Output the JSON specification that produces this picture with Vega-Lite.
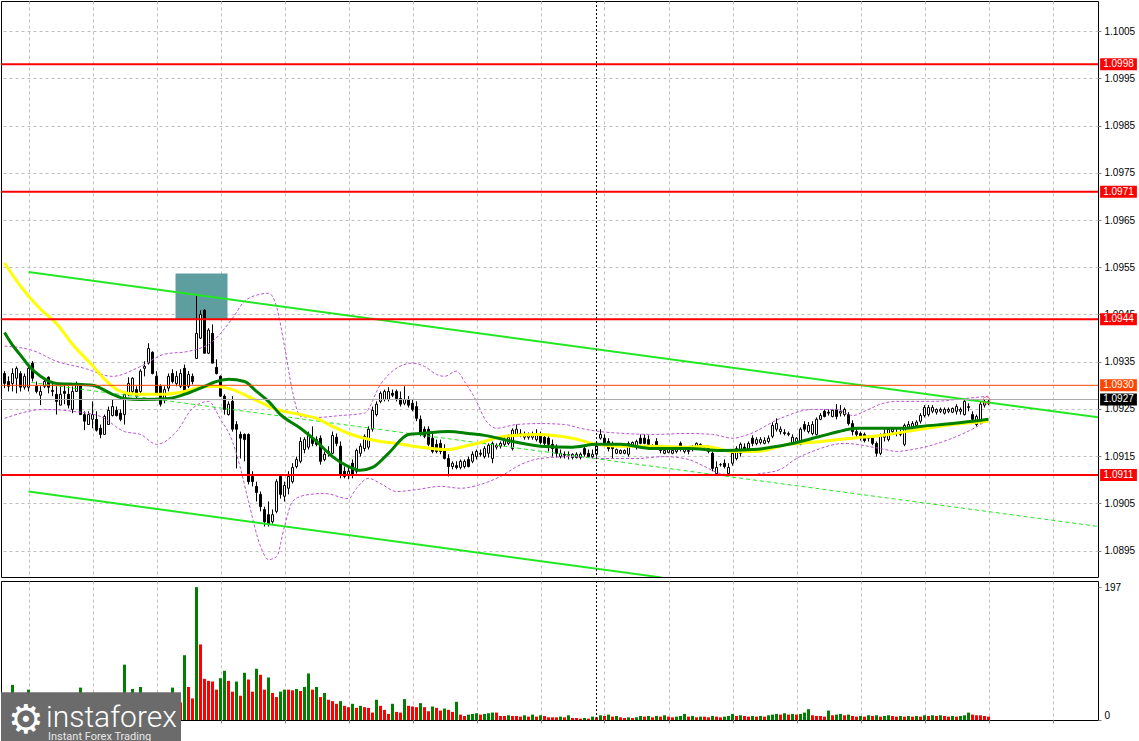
{
"$schema":"https://vega.github.io/schema/vega-lite/v6.json",
"padding":0,
"background":"#ffffff",
"spacing":2,
"config":{"font":"Liberation Sans","scale":{"continuousPadding":0},"view":{"stroke":"#000000","strokeWidth":1},"axis":{"labelFont":"Liberation Sans","labelFontSize":10,"labelColor":"#000000","gridColor":"#c0c0c0","gridDash":[3,3],"gridWidth":1,"tickColor":"#808080","domain":false}},
"datasets":{
"candles":[
{"i":0,"o":1.09325,"h":1.09330,"l":1.09294,"c":1.09304},
{"i":1,"o":1.09308,"h":1.09319,"l":1.09287,"c":1.09298},
{"i":2,"o":1.09304,"h":1.09336,"l":1.09287,"c":1.09325},
{"i":3,"o":1.09315,"h":1.09340,"l":1.09283,"c":1.09336},
{"i":4,"o":1.09325,"h":1.09330,"l":1.09287,"c":1.09296},
{"i":5,"o":1.09296,"h":1.09325,"l":1.09291,"c":1.09319},
{"i":6,"o":1.09296,"h":1.09340,"l":1.09287,"c":1.09336},
{"i":7,"o":1.09347,"h":1.09351,"l":1.09308,"c":1.09315},
{"i":8,"o":1.09298,"h":1.09308,"l":1.09283,"c":1.09287},
{"i":9,"o":1.09279,"h":1.09298,"l":1.09258,"c":1.09287},
{"i":10,"o":1.09298,"h":1.09313,"l":1.09294,"c":1.09308},
{"i":11,"o":1.09317,"h":1.09319,"l":1.09283,"c":1.09296},
{"i":12,"o":1.09289,"h":1.09308,"l":1.09277,"c":1.09287},
{"i":13,"o":1.09281,"h":1.09298,"l":1.09238,"c":1.09266},
{"i":14,"o":1.09258,"h":1.09298,"l":1.09258,"c":1.09281},
{"i":15,"o":1.09287,"h":1.09304,"l":1.09260,"c":1.09283},
{"i":16,"o":1.09281,"h":1.09298,"l":1.09251,"c":1.09258},
{"i":17,"o":1.09249,"h":1.09298,"l":1.09241,"c":1.09287},
{"i":18,"o":1.09287,"h":1.09308,"l":1.09287,"c":1.09302},
{"i":19,"o":1.09300,"h":1.09304,"l":1.09238,"c":1.09238},
{"i":20,"o":1.09238,"h":1.09245,"l":1.09205,"c":1.09224},
{"i":21,"o":1.09217,"h":1.09245,"l":1.09217,"c":1.09238},
{"i":22,"o":1.09228,"h":1.09266,"l":1.09209,"c":1.09238},
{"i":23,"o":1.09228,"h":1.09245,"l":1.09202,"c":1.09205},
{"i":24,"o":1.09209,"h":1.09217,"l":1.09188,"c":1.09196},
{"i":25,"o":1.09196,"h":1.09238,"l":1.09196,"c":1.09234},
{"i":26,"o":1.09217,"h":1.09255,"l":1.09217,"c":1.09247},
{"i":27,"o":1.09236,"h":1.09270,"l":1.09234,"c":1.09255},
{"i":28,"o":1.09247,"h":1.09255,"l":1.09234,"c":1.09236},
{"i":29,"o":1.09241,"h":1.09249,"l":1.09224,"c":1.09228},
{"i":30,"o":1.09238,"h":1.09281,"l":1.09217,"c":1.09281},
{"i":31,"o":1.09281,"h":1.09317,"l":1.09277,"c":1.09304},
{"i":32,"o":1.09287,"h":1.09317,"l":1.09281,"c":1.09315},
{"i":33,"o":1.09291,"h":1.09298,"l":1.09272,"c":1.09277},
{"i":34,"o":1.09287,"h":1.09334,"l":1.09283,"c":1.09330},
{"i":35,"o":1.09336,"h":1.09351,"l":1.09319,"c":1.09340},
{"i":36,"o":1.09347,"h":1.09389,"l":1.09344,"c":1.09378},
{"i":37,"o":1.09370,"h":1.09372,"l":1.09323,"c":1.09325},
{"i":38,"o":1.09319,"h":1.09330,"l":1.09281,"c":1.09283},
{"i":39,"o":1.09298,"h":1.09302,"l":1.09255,"c":1.09260},
{"i":40,"o":1.09270,"h":1.09298,"l":1.09262,"c":1.09291},
{"i":41,"o":1.09294,"h":1.09325,"l":1.09287,"c":1.09319},
{"i":42,"o":1.09325,"h":1.09334,"l":1.09304,"c":1.09308},
{"i":43,"o":1.09304,"h":1.09330,"l":1.09298,"c":1.09319},
{"i":44,"o":1.09298,"h":1.09334,"l":1.09294,"c":1.09325},
{"i":45,"o":1.09336,"h":1.09344,"l":1.09283,"c":1.09287},
{"i":46,"o":1.09298,"h":1.09330,"l":1.09294,"c":1.09323},
{"i":47,"o":1.09319,"h":1.09325,"l":1.09302,"c":1.09308},
{"i":48,"o":1.09357,"h":1.09493,"l":1.09357,"c":1.09410},
{"i":49,"o":1.09400,"h":1.09459,"l":1.09398,"c":1.09450},
{"i":50,"o":1.09459,"h":1.09461,"l":1.09368,"c":1.09368},
{"i":51,"o":1.09368,"h":1.09421,"l":1.09366,"c":1.09417},
{"i":52,"o":1.09410,"h":1.09429,"l":1.09347,"c":1.09347},
{"i":53,"o":1.09338,"h":1.09355,"l":1.09323,"c":1.09325},
{"i":54,"o":1.09319,"h":1.09321,"l":1.09275,"c":1.09277},
{"i":55,"o":1.09277,"h":1.09281,"l":1.09238,"c":1.09249},
{"i":56,"o":1.09238,"h":1.09266,"l":1.09236,"c":1.09260},
{"i":57,"o":1.09266,"h":1.09277,"l":1.09202,"c":1.09207},
{"i":58,"o":1.09217,"h":1.09224,"l":1.09124,"c":1.09207},
{"i":59,"o":1.09196,"h":1.09202,"l":1.09145,"c":1.09188},
{"i":60,"o":1.09196,"h":1.09198,"l":1.09139,"c":1.09185},
{"i":61,"o":1.09196,"h":1.09198,"l":1.09090,"c":1.09096},
{"i":62,"o":1.09107,"h":1.09118,"l":1.09086,"c":1.09096},
{"i":63,"o":1.09086,"h":1.09096,"l":1.09054,"c":1.09073},
{"i":64,"o":1.09069,"h":1.09075,"l":1.09033,"c":1.09043},
{"i":65,"o":1.09037,"h":1.09043,"l":1.09001,"c":1.09011},
{"i":66,"o":1.09026,"h":1.09054,"l":1.09001,"c":1.09005},
{"i":67,"o":1.09011,"h":1.09037,"l":1.09007,"c":1.09026},
{"i":68,"o":1.09033,"h":1.09101,"l":1.09029,"c":1.09096},
{"i":69,"o":1.09107,"h":1.09111,"l":1.09060,"c":1.09069},
{"i":70,"o":1.09065,"h":1.09096,"l":1.09054,"c":1.09088},
{"i":71,"o":1.09082,"h":1.09118,"l":1.09069,"c":1.09107},
{"i":72,"o":1.09096,"h":1.09135,"l":1.09092,"c":1.09126},
{"i":73,"o":1.09128,"h":1.09149,"l":1.09124,"c":1.09143},
{"i":74,"o":1.09139,"h":1.09190,"l":1.09135,"c":1.09181},
{"i":75,"o":1.09164,"h":1.09190,"l":1.09156,"c":1.09185},
{"i":76,"o":1.09169,"h":1.09202,"l":1.09164,"c":1.09194},
{"i":77,"o":1.09188,"h":1.09213,"l":1.09171,"c":1.09177},
{"i":78,"o":1.09185,"h":1.09192,"l":1.09171,"c":1.09175},
{"i":79,"o":1.09188,"h":1.09194,"l":1.09132,"c":1.09139},
{"i":80,"o":1.09143,"h":1.09160,"l":1.09139,"c":1.09154},
{"i":81,"o":1.09156,"h":1.09171,"l":1.09149,"c":1.09160},
{"i":82,"o":1.09156,"h":1.09202,"l":1.09154,"c":1.09194},
{"i":83,"o":1.09190,"h":1.09198,"l":1.09171,"c":1.09177},
{"i":84,"o":1.09171,"h":1.09181,"l":1.09103,"c":1.09109},
{"i":85,"o":1.09118,"h":1.09128,"l":1.09103,"c":1.09107},
{"i":86,"o":1.09109,"h":1.09126,"l":1.09101,"c":1.09118},
{"i":87,"o":1.09135,"h":1.09143,"l":1.09103,"c":1.09109},
{"i":88,"o":1.09118,"h":1.09166,"l":1.09113,"c":1.09162},
{"i":89,"o":1.09156,"h":1.09177,"l":1.09149,"c":1.09171},
{"i":90,"o":1.09166,"h":1.09196,"l":1.09160,"c":1.09192},
{"i":91,"o":1.09169,"h":1.09213,"l":1.09164,"c":1.09207},
{"i":92,"o":1.09207,"h":1.09255,"l":1.09202,"c":1.09247},
{"i":93,"o":1.09238,"h":1.09266,"l":1.09234,"c":1.09260},
{"i":94,"o":1.09266,"h":1.09287,"l":1.09262,"c":1.09283},
{"i":95,"o":1.09270,"h":1.09291,"l":1.09266,"c":1.09287},
{"i":96,"o":1.09270,"h":1.09296,"l":1.09266,"c":1.09287},
{"i":97,"o":1.09283,"h":1.09291,"l":1.09275,"c":1.09279},
{"i":98,"o":1.09287,"h":1.09291,"l":1.09266,"c":1.09272},
{"i":99,"o":1.09272,"h":1.09287,"l":1.09255,"c":1.09260},
{"i":100,"o":1.09262,"h":1.09298,"l":1.09258,"c":1.09270},
{"i":101,"o":1.09270,"h":1.09277,"l":1.09253,"c":1.09258},
{"i":102,"o":1.09262,"h":1.09270,"l":1.09245,"c":1.09249},
{"i":103,"o":1.09255,"h":1.09266,"l":1.09224,"c":1.09230},
{"i":104,"o":1.09228,"h":1.09236,"l":1.09192,"c":1.09196},
{"i":105,"o":1.09207,"h":1.09213,"l":1.09188,"c":1.09192},
{"i":106,"o":1.09207,"h":1.09213,"l":1.09171,"c":1.09175},
{"i":107,"o":1.09188,"h":1.09198,"l":1.09156,"c":1.09160},
{"i":108,"o":1.09175,"h":1.09185,"l":1.09156,"c":1.09160},
{"i":109,"o":1.09177,"h":1.09185,"l":1.09154,"c":1.09160},
{"i":110,"o":1.09166,"h":1.09175,"l":1.09143,"c":1.09145},
{"i":111,"o":1.09145,"h":1.09154,"l":1.09107,"c":1.09128},
{"i":112,"o":1.09128,"h":1.09139,"l":1.09122,"c":1.09135},
{"i":113,"o":1.09130,"h":1.09139,"l":1.09122,"c":1.09126},
{"i":114,"o":1.09126,"h":1.09143,"l":1.09122,"c":1.09139},
{"i":115,"o":1.09128,"h":1.09143,"l":1.09124,"c":1.09139},
{"i":116,"o":1.09143,"h":1.09149,"l":1.09126,"c":1.09128},
{"i":117,"o":1.09139,"h":1.09160,"l":1.09135,"c":1.09154},
{"i":118,"o":1.09149,"h":1.09164,"l":1.09143,"c":1.09160},
{"i":119,"o":1.09156,"h":1.09164,"l":1.09149,"c":1.09154},
{"i":120,"o":1.09149,"h":1.09171,"l":1.09145,"c":1.09166},
{"i":121,"o":1.09156,"h":1.09177,"l":1.09147,"c":1.09173},
{"i":122,"o":1.09145,"h":1.09181,"l":1.09135,"c":1.09177},
{"i":123,"o":1.09169,"h":1.09177,"l":1.09164,"c":1.09173},
{"i":124,"o":1.09171,"h":1.09181,"l":1.09166,"c":1.09177},
{"i":125,"o":1.09175,"h":1.09190,"l":1.09171,"c":1.09185},
{"i":126,"o":1.09177,"h":1.09196,"l":1.09173,"c":1.09190},
{"i":127,"o":1.09166,"h":1.09209,"l":1.09162,"c":1.09205},
{"i":128,"o":1.09196,"h":1.09217,"l":1.09192,"c":1.09207},
{"i":129,"o":1.09198,"h":1.09207,"l":1.09190,"c":1.09194},
{"i":130,"o":1.09190,"h":1.09202,"l":1.09185,"c":1.09196},
{"i":131,"o":1.09190,"h":1.09200,"l":1.09185,"c":1.09194},
{"i":132,"o":1.09190,"h":1.09202,"l":1.09185,"c":1.09196},
{"i":133,"o":1.09185,"h":1.09207,"l":1.09181,"c":1.09196},
{"i":134,"o":1.09196,"h":1.09202,"l":1.09175,"c":1.09179},
{"i":135,"o":1.09190,"h":1.09196,"l":1.09171,"c":1.09177},
{"i":136,"o":1.09188,"h":1.09194,"l":1.09160,"c":1.09175},
{"i":137,"o":1.09175,"h":1.09185,"l":1.09149,"c":1.09166},
{"i":138,"o":1.09166,"h":1.09175,"l":1.09147,"c":1.09156},
{"i":139,"o":1.09149,"h":1.09164,"l":1.09145,"c":1.09156},
{"i":140,"o":1.09154,"h":1.09160,"l":1.09145,"c":1.09152},
{"i":141,"o":1.09152,"h":1.09160,"l":1.09143,"c":1.09154},
{"i":142,"o":1.09147,"h":1.09156,"l":1.09143,"c":1.09154},
{"i":143,"o":1.09147,"h":1.09158,"l":1.09145,"c":1.09154},
{"i":144,"o":1.09147,"h":1.09158,"l":1.09143,"c":1.09154},
{"i":145,"o":1.09166,"h":1.09171,"l":1.09149,"c":1.09154},
{"i":146,"o":1.09156,"h":1.09164,"l":1.09147,"c":1.09149},
{"i":147,"o":1.09149,"h":1.09164,"l":1.09145,"c":1.09154},
{"i":148,"o":1.09154,"h":1.09181,"l":1.09149,"c":1.09177},
{"i":149,"o":1.09188,"h":1.09207,"l":1.09185,"c":1.09196},
{"i":150,"o":1.09188,"h":1.09196,"l":1.09171,"c":1.09175},
{"i":151,"o":1.09181,"h":1.09188,"l":1.09160,"c":1.09166},
{"i":152,"o":1.09171,"h":1.09181,"l":1.09145,"c":1.09166},
{"i":153,"o":1.09156,"h":1.09166,"l":1.09154,"c":1.09164},
{"i":154,"o":1.09156,"h":1.09164,"l":1.09154,"c":1.09162},
{"i":155,"o":1.09156,"h":1.09164,"l":1.09154,"c":1.09162},
{"i":156,"o":1.09154,"h":1.09181,"l":1.09149,"c":1.09177},
{"i":157,"o":1.09173,"h":1.09181,"l":1.09169,"c":1.09179},
{"i":158,"o":1.09169,"h":1.09185,"l":1.09164,"c":1.09181},
{"i":159,"o":1.09188,"h":1.09196,"l":1.09175,"c":1.09177},
{"i":160,"o":1.09188,"h":1.09196,"l":1.09175,"c":1.09177},
{"i":161,"o":1.09185,"h":1.09194,"l":1.09173,"c":1.09175},
{"i":162,"o":1.09169,"h":1.09175,"l":1.09164,"c":1.09171},
{"i":163,"o":1.09181,"h":1.09188,"l":1.09164,"c":1.09166},
{"i":164,"o":1.09164,"h":1.09173,"l":1.09156,"c":1.09162},
{"i":165,"o":1.09156,"h":1.09164,"l":1.09154,"c":1.09162},
{"i":166,"o":1.09158,"h":1.09169,"l":1.09156,"c":1.09166},
{"i":167,"o":1.09156,"h":1.09166,"l":1.09154,"c":1.09162},
{"i":168,"o":1.09160,"h":1.09169,"l":1.09156,"c":1.09166},
{"i":169,"o":1.09177,"h":1.09181,"l":1.09160,"c":1.09164},
{"i":170,"o":1.09160,"h":1.09169,"l":1.09156,"c":1.09166},
{"i":171,"o":1.09160,"h":1.09166,"l":1.09154,"c":1.09162},
{"i":172,"o":1.09164,"h":1.09173,"l":1.09160,"c":1.09171},
{"i":173,"o":1.09169,"h":1.09179,"l":1.09166,"c":1.09177},
{"i":174,"o":1.09171,"h":1.09177,"l":1.09166,"c":1.09175},
{"i":175,"o":1.09169,"h":1.09173,"l":1.09164,"c":1.09171},
{"i":176,"o":1.09166,"h":1.09173,"l":1.09156,"c":1.09160},
{"i":177,"o":1.09156,"h":1.09160,"l":1.09118,"c":1.09124},
{"i":178,"o":1.09113,"h":1.09139,"l":1.09109,"c":1.09126},
{"i":179,"o":1.09132,"h":1.09135,"l":1.09128,"c":1.09132},
{"i":180,"o":1.09135,"h":1.09143,"l":1.09124,"c":1.09128},
{"i":181,"o":1.09113,"h":1.09135,"l":1.09111,"c":1.09126},
{"i":182,"o":1.09135,"h":1.09160,"l":1.09130,"c":1.09156},
{"i":183,"o":1.09145,"h":1.09171,"l":1.09141,"c":1.09166},
{"i":184,"o":1.09156,"h":1.09179,"l":1.09149,"c":1.09175},
{"i":185,"o":1.09169,"h":1.09177,"l":1.09160,"c":1.09164},
{"i":186,"o":1.09166,"h":1.09181,"l":1.09162,"c":1.09177},
{"i":187,"o":1.09188,"h":1.09194,"l":1.09171,"c":1.09177},
{"i":188,"o":1.09177,"h":1.09190,"l":1.09173,"c":1.09185},
{"i":189,"o":1.09179,"h":1.09190,"l":1.09175,"c":1.09185},
{"i":190,"o":1.09177,"h":1.09190,"l":1.09175,"c":1.09183},
{"i":191,"o":1.09181,"h":1.09194,"l":1.09177,"c":1.09188},
{"i":192,"o":1.09192,"h":1.09222,"l":1.09188,"c":1.09215},
{"i":193,"o":1.09207,"h":1.09230,"l":1.09202,"c":1.09219},
{"i":194,"o":1.09202,"h":1.09213,"l":1.09196,"c":1.09207},
{"i":195,"o":1.09198,"h":1.09207,"l":1.09194,"c":1.09200},
{"i":196,"o":1.09196,"h":1.09202,"l":1.09192,"c":1.09198},
{"i":197,"o":1.09179,"h":1.09196,"l":1.09175,"c":1.09190},
{"i":198,"o":1.09181,"h":1.09190,"l":1.09177,"c":1.09188},
{"i":199,"o":1.09175,"h":1.09211,"l":1.09173,"c":1.09207},
{"i":200,"o":1.09217,"h":1.09224,"l":1.09202,"c":1.09207},
{"i":201,"o":1.09202,"h":1.09222,"l":1.09198,"c":1.09215},
{"i":202,"o":1.09198,"h":1.09224,"l":1.09194,"c":1.09217},
{"i":203,"o":1.09196,"h":1.09232,"l":1.09194,"c":1.09228},
{"i":204,"o":1.09228,"h":1.09241,"l":1.09226,"c":1.09236},
{"i":205,"o":1.09245,"h":1.09249,"l":1.09232,"c":1.09234},
{"i":206,"o":1.09243,"h":1.09249,"l":1.09236,"c":1.09241},
{"i":207,"o":1.09234,"h":1.09249,"l":1.09232,"c":1.09247},
{"i":208,"o":1.09249,"h":1.09260,"l":1.09228,"c":1.09234},
{"i":209,"o":1.09241,"h":1.09258,"l":1.09234,"c":1.09245},
{"i":210,"o":1.09238,"h":1.09253,"l":1.09234,"c":1.09249},
{"i":211,"o":1.09238,"h":1.09243,"l":1.09215,"c":1.09219},
{"i":212,"o":1.09219,"h":1.09226,"l":1.09194,"c":1.09202},
{"i":213,"o":1.09202,"h":1.09211,"l":1.09190,"c":1.09196},
{"i":214,"o":1.09198,"h":1.09202,"l":1.09183,"c":1.09188},
{"i":215,"o":1.09196,"h":1.09200,"l":1.09179,"c":1.09183},
{"i":216,"o":1.09188,"h":1.09194,"l":1.09181,"c":1.09190},
{"i":217,"o":1.09188,"h":1.09194,"l":1.09173,"c":1.09177},
{"i":218,"o":1.09177,"h":1.09181,"l":1.09149,"c":1.09156},
{"i":219,"o":1.09156,"h":1.09198,"l":1.09152,"c":1.09194},
{"i":220,"o":1.09190,"h":1.09207,"l":1.09181,"c":1.09198},
{"i":221,"o":1.09185,"h":1.09211,"l":1.09181,"c":1.09207},
{"i":222,"o":1.09202,"h":1.09211,"l":1.09198,"c":1.09207},
{"i":223,"o":1.09198,"h":1.09207,"l":1.09192,"c":1.09200},
{"i":224,"o":1.09196,"h":1.09207,"l":1.09192,"c":1.09200},
{"i":225,"o":1.09175,"h":1.09219,"l":1.09171,"c":1.09215},
{"i":226,"o":1.09211,"h":1.09224,"l":1.09207,"c":1.09217},
{"i":227,"o":1.09213,"h":1.09224,"l":1.09209,"c":1.09219},
{"i":228,"o":1.09215,"h":1.09226,"l":1.09211,"c":1.09222},
{"i":229,"o":1.09224,"h":1.09241,"l":1.09219,"c":1.09236},
{"i":230,"o":1.09236,"h":1.09258,"l":1.09232,"c":1.09253},
{"i":231,"o":1.09238,"h":1.09258,"l":1.09234,"c":1.09253},
{"i":232,"o":1.09245,"h":1.09258,"l":1.09241,"c":1.09253},
{"i":233,"o":1.09243,"h":1.09251,"l":1.09238,"c":1.09249},
{"i":234,"o":1.09245,"h":1.09253,"l":1.09241,"c":1.09249},
{"i":235,"o":1.09241,"h":1.09253,"l":1.09238,"c":1.09249},
{"i":236,"o":1.09245,"h":1.09253,"l":1.09241,"c":1.09249},
{"i":237,"o":1.09243,"h":1.09253,"l":1.09241,"c":1.09251},
{"i":238,"o":1.09245,"h":1.09260,"l":1.09238,"c":1.09255},
{"i":239,"o":1.09245,"h":1.09253,"l":1.09238,"c":1.09249},
{"i":240,"o":1.09238,"h":1.09270,"l":1.09236,"c":1.09266},
{"i":241,"o":1.09253,"h":1.09262,"l":1.09245,"c":1.09255},
{"i":242,"o":1.09238,"h":1.09245,"l":1.09224,"c":1.09228},
{"i":243,"o":1.09217,"h":1.09238,"l":1.09213,"c":1.09234},
{"i":244,"o":1.09224,"h":1.09266,"l":1.09219,"c":1.09260},
{"i":245,"o":1.09258,"h":1.09270,"l":1.09253,"c":1.09266},
{"i":246,"o":1.09262,"h":1.09270,"l":1.09258,"c":1.09266}
],
"vol":[
{"i":0,"v":28},{"i":1,"v":20},{"i":2,"v":52},{"i":3,"v":30},{"i":4,"v":36},{"i":5,"v":25},{"i":6,"v":45},{"i":7,"v":30},{"i":8,"v":22},{"i":9,"v":25},
{"i":10,"v":18},{"i":11,"v":25},{"i":12,"v":20},{"i":13,"v":30},{"i":14,"v":22},{"i":15,"v":20},{"i":16,"v":25},{"i":17,"v":28},{"i":18,"v":22},{"i":19,"v":48},
{"i":20,"v":30},{"i":21,"v":25},{"i":22,"v":28},{"i":23,"v":30},{"i":24,"v":26},{"i":25,"v":28},{"i":26,"v":37},{"i":27,"v":25},{"i":28,"v":22},{"i":29,"v":28},
{"i":30,"v":82},{"i":31,"v":30},{"i":32,"v":46},{"i":33,"v":30},{"i":34,"v":49},{"i":35,"v":34},{"i":36,"v":28},{"i":37,"v":30},{"i":38,"v":25},{"i":39,"v":28},
{"i":40,"v":34},{"i":41,"v":25},{"i":42,"v":48},{"i":43,"v":28},{"i":44,"v":26},{"i":45,"v":96},{"i":46,"v":49},{"i":47,"v":32},{"i":48,"v":197},{"i":49,"v":112},
{"i":50,"v":61},{"i":51,"v":58},{"i":52,"v":57},{"i":53,"v":45},{"i":54,"v":62},{"i":55,"v":73},{"i":56,"v":58},{"i":57,"v":42},{"i":58,"v":57},{"i":59,"v":36},
{"i":60,"v":70},{"i":61,"v":60},{"i":62,"v":42},{"i":63,"v":76},{"i":64,"v":67},{"i":65,"v":45},{"i":66,"v":63},{"i":67,"v":40},{"i":68,"v":34},{"i":69,"v":42},
{"i":70,"v":45},{"i":71,"v":45},{"i":72,"v":44},{"i":73,"v":46},{"i":74,"v":43},{"i":75,"v":49},{"i":76,"v":69},{"i":77,"v":45},{"i":78,"v":49},{"i":79,"v":34},
{"i":80,"v":40},{"i":81,"v":30},{"i":82,"v":28},{"i":83,"v":24},{"i":84,"v":28},{"i":85,"v":21},{"i":86,"v":19},{"i":87,"v":24},{"i":88,"v":18},{"i":89,"v":21},
{"i":90,"v":19},{"i":91,"v":18},{"i":92,"v":11},{"i":93,"v":30},{"i":94,"v":21},{"i":95,"v":15},{"i":96,"v":9},{"i":97,"v":24},{"i":98,"v":12},{"i":99,"v":11},
{"i":100,"v":31},{"i":101,"v":21},{"i":102,"v":20},{"i":103,"v":19},{"i":104,"v":25},{"i":105,"v":19},{"i":106,"v":13},{"i":107,"v":20},{"i":108,"v":18},{"i":109,"v":14},
{"i":110,"v":17},{"i":111,"v":15},{"i":112,"v":12},{"i":113,"v":27},{"i":114,"v":8},{"i":115,"v":6},{"i":116,"v":8},{"i":117,"v":9},{"i":118,"v":10},{"i":119,"v":8},
{"i":120,"v":9},{"i":121,"v":10},{"i":122,"v":11},{"i":123,"v":11},{"i":124,"v":6},{"i":125,"v":6},{"i":126,"v":7},{"i":127,"v":6},{"i":128,"v":6},{"i":129,"v":5},
{"i":130,"v":7},{"i":131,"v":5},{"i":132,"v":8},{"i":133,"v":5},{"i":134,"v":7},{"i":135,"v":6},{"i":136,"v":4},{"i":137,"v":4},{"i":138,"v":4},{"i":139,"v":5},
{"i":140,"v":4},{"i":141,"v":7},{"i":142,"v":3},{"i":143,"v":3},{"i":144,"v":2},{"i":145,"v":3},{"i":146,"v":2},{"i":147,"v":5},{"i":148,"v":4},{"i":149,"v":7},
{"i":150,"v":6},{"i":151,"v":8},{"i":152,"v":5},{"i":153,"v":6},{"i":154,"v":4},{"i":155,"v":3},{"i":156,"v":4},{"i":157,"v":3},{"i":158,"v":4},{"i":159,"v":6},
{"i":160,"v":5},{"i":161,"v":6},{"i":162,"v":4},{"i":163,"v":6},{"i":164,"v":5},{"i":165,"v":7},{"i":166,"v":5},{"i":167,"v":4},{"i":168,"v":5},{"i":169,"v":6},
{"i":170,"v":9},{"i":171,"v":5},{"i":172,"v":6},{"i":173,"v":4},{"i":174,"v":5},{"i":175,"v":5},{"i":176,"v":4},{"i":177,"v":6},{"i":178,"v":5},{"i":179,"v":4},
{"i":180,"v":5},{"i":181,"v":6},{"i":182,"v":9},{"i":183,"v":6},{"i":184,"v":7},{"i":185,"v":6},{"i":186,"v":5},{"i":187,"v":6},{"i":188,"v":5},{"i":189,"v":6},
{"i":190,"v":5},{"i":191,"v":7},{"i":192,"v":8},{"i":193,"v":9},{"i":194,"v":8},{"i":195,"v":10},{"i":196,"v":8},{"i":197,"v":9},{"i":198,"v":8},{"i":199,"v":9},
{"i":200,"v":11},{"i":201,"v":16},{"i":202,"v":7},{"i":203,"v":6},{"i":204,"v":6},{"i":205,"v":5},{"i":206,"v":14},{"i":207,"v":7},{"i":208,"v":8},{"i":209,"v":9},
{"i":210,"v":7},{"i":211,"v":8},{"i":212,"v":6},{"i":213,"v":5},{"i":214,"v":6},{"i":215,"v":5},{"i":216,"v":7},{"i":217,"v":6},{"i":218,"v":7},{"i":219,"v":5},
{"i":220,"v":6},{"i":221,"v":7},{"i":222,"v":6},{"i":223,"v":5},{"i":224,"v":6},{"i":225,"v":5},{"i":226,"v":6},{"i":227,"v":5},{"i":228,"v":6},{"i":229,"v":5},
{"i":230,"v":7},{"i":231,"v":6},{"i":232,"v":7},{"i":233,"v":6},{"i":234,"v":7},{"i":235,"v":6},{"i":236,"v":5},{"i":237,"v":6},{"i":238,"v":5},{"i":239,"v":6},
{"i":240,"v":7},{"i":241,"v":11},{"i":242,"v":8},{"i":243,"v":7},{"i":244,"v":7},{"i":245,"v":6},{"i":246,"v":5}
],
"maSlow":[
{"i":0,"p":1.09559},{"i":4,"p":1.09510},{"i":9,"p":1.09461},{"i":13,"p":1.09431},{"i":17,"p":1.09387},{"i":22,"p":1.09342},{"i":25,"p":1.09313},{"i":29,"p":1.09287},{"i":33,"p":1.09281},{"i":39,"p":1.09281},{"i":45,"p":1.09287},{"i":49,"p":1.09296},{"i":52,"p":1.09298},{"i":57,"p":1.09291},{"i":62,"p":1.09272},{"i":68,"p":1.09249},{"i":74,"p":1.09238},{"i":78,"p":1.09230},{"i":82,"p":1.09213},{"i":86,"p":1.09198},{"i":90,"p":1.09188},{"i":94,"p":1.09181},{"i":98,"p":1.09177},{"i":102,"p":1.09171},{"i":107,"p":1.09166},{"i":111,"p":1.09164},{"i":115,"p":1.09171},{"i":119,"p":1.09179},{"i":125,"p":1.09192},{"i":133,"p":1.09196},{"i":142,"p":1.09188},{"i":148,"p":1.09175},{"i":154,"p":1.09171},{"i":162,"p":1.09171},{"i":171,"p":1.09169},{"i":175,"p":1.09171},{"i":182,"p":1.09160},{"i":188,"p":1.09160},{"i":196,"p":1.09175},{"i":204,"p":1.09181},{"i":212,"p":1.09188},{"i":221,"p":1.09196},{"i":229,"p":1.09207},{"i":237,"p":1.09217},{"i":246,"p":1.09224}
],
"maFast":[
{"i":0,"p":1.09412},{"i":2,"p":1.09385},{"i":4,"p":1.09364},{"i":6,"p":1.09342},{"i":9,"p":1.09319},{"i":13,"p":1.09304},{"i":18,"p":1.09302},{"i":22,"p":1.09300},{"i":27,"p":1.09281},{"i":30,"p":1.09272},{"i":34,"p":1.09270},{"i":41,"p":1.09272},{"i":45,"p":1.09281},{"i":49,"p":1.09294},{"i":53,"p":1.09308},{"i":56,"p":1.09313},{"i":60,"p":1.09308},{"i":63,"p":1.09287},{"i":66,"p":1.09266},{"i":69,"p":1.09238},{"i":74,"p":1.09209},{"i":78,"p":1.09181},{"i":82,"p":1.09149},{"i":86,"p":1.09128},{"i":89,"p":1.09120},{"i":92,"p":1.09126},{"i":96,"p":1.09156},{"i":101,"p":1.09196},{"i":104,"p":1.09198},{"i":111,"p":1.09202},{"i":116,"p":1.09198},{"i":120,"p":1.09194},{"i":127,"p":1.09181},{"i":134,"p":1.09171},{"i":142,"p":1.09169},{"i":148,"p":1.09175},{"i":154,"p":1.09175},{"i":162,"p":1.09166},{"i":171,"p":1.09166},{"i":179,"p":1.09162},{"i":187,"p":1.09164},{"i":196,"p":1.09175},{"i":204,"p":1.09192},{"i":210,"p":1.09205},{"i":213,"p":1.09209},{"i":225,"p":1.09209},{"i":229,"p":1.09213},{"i":237,"p":1.09219},{"i":246,"p":1.09228}
],
"bands":[
{"s":"u","i":0,"p":1.09383},{"s":"u","i":7,"p":1.09374},{"s":"u","i":13,"p":1.09351},{"s":"u","i":20,"p":1.09336},{"s":"u","i":27,"p":1.09319},{"s":"u","i":34,"p":1.09340},{"s":"u","i":40,"p":1.09366},{"s":"u","i":46,"p":1.09372},{"s":"u","i":52,"p":1.09393},{"s":"u","i":57,"p":1.09442},{"s":"u","i":60,"p":1.09478},{"s":"u","i":64,"p":1.09493},{"s":"u","i":66,"p":1.09495},{"s":"u","i":68,"p":1.09467},{"s":"u","i":70,"p":1.09383},{"s":"u","i":72,"p":1.09287},{"s":"u","i":74,"p":1.09234},{"s":"u","i":78,"p":1.09232},{"s":"u","i":84,"p":1.09236},{"s":"u","i":90,"p":1.09241},{"s":"u","i":94,"p":1.09302},{"s":"u","i":97,"p":1.09330},{"s":"u","i":102,"p":1.09347},{"s":"u","i":105,"p":1.09340},{"s":"u","i":108,"p":1.09323},{"s":"u","i":110,"p":1.09319},{"s":"u","i":113,"p":1.09330},{"s":"u","i":115,"p":1.09308},{"s":"u","i":118,"p":1.09266},{"s":"u","i":120,"p":1.09230},{"s":"u","i":123,"p":1.09209},{"s":"u","i":128,"p":1.09217},{"s":"u","i":134,"p":1.09219},{"s":"u","i":140,"p":1.09217},{"s":"u","i":144,"p":1.09209},{"s":"u","i":149,"p":1.09202},{"s":"u","i":155,"p":1.09198},{"s":"u","i":163,"p":1.09196},{"s":"u","i":170,"p":1.09198},{"s":"u","i":177,"p":1.09196},{"s":"u","i":182,"p":1.09188},{"s":"u","i":186,"p":1.09196},{"s":"u","i":194,"p":1.09230},{"s":"u","i":202,"p":1.09249},{"s":"u","i":208,"p":1.09249},{"s":"u","i":212,"p":1.09236},{"s":"u","i":216,"p":1.09249},{"s":"u","i":219,"p":1.09260},{"s":"u","i":223,"p":1.09266},{"s":"u","i":232,"p":1.09266},{"s":"u","i":240,"p":1.09272},{"s":"u","i":246,"p":1.09277},
{"s":"d","i":0,"p":1.09230},{"s":"d","i":10,"p":1.09249},{"s":"d","i":17,"p":1.09245},{"s":"d","i":24,"p":1.09234},{"s":"d","i":30,"p":1.09202},{"s":"d","i":34,"p":1.09196},{"s":"d","i":38,"p":1.09175},{"s":"d","i":43,"p":1.09202},{"s":"d","i":47,"p":1.09251},{"s":"d","i":51,"p":1.09266},{"s":"d","i":54,"p":1.09228},{"s":"d","i":57,"p":1.09181},{"s":"d","i":59,"p":1.09124},{"s":"d","i":61,"p":1.09054},{"s":"d","i":64,"p":1.08959},{"s":"d","i":66,"p":1.08931},{"s":"d","i":68,"p":1.08937},{"s":"d","i":70,"p":1.09001},{"s":"d","i":72,"p":1.09054},{"s":"d","i":75,"p":1.09067},{"s":"d","i":80,"p":1.09071},{"s":"d","i":86,"p":1.09060},{"s":"d","i":88,"p":1.09082},{"s":"d","i":91,"p":1.09103},{"s":"d","i":94,"p":1.09092},{"s":"d","i":98,"p":1.09075},{"s":"d","i":103,"p":1.09079},{"s":"d","i":109,"p":1.09086},{"s":"d","i":114,"p":1.09082},{"s":"d","i":119,"p":1.09090},{"s":"d","i":124,"p":1.09107},{"s":"d","i":129,"p":1.09132},{"s":"d","i":134,"p":1.09145},{"s":"d","i":142,"p":1.09149},{"s":"d","i":150,"p":1.09145},{"s":"d","i":158,"p":1.09145},{"s":"d","i":165,"p":1.09149},{"s":"d","i":171,"p":1.09143},{"s":"d","i":175,"p":1.09128},{"s":"d","i":179,"p":1.09113},{"s":"d","i":184,"p":1.09109},{"s":"d","i":189,"p":1.09113},{"s":"d","i":194,"p":1.09122},{"s":"d","i":198,"p":1.09145},{"s":"d","i":202,"p":1.09160},{"s":"d","i":210,"p":1.09177},{"s":"d","i":219,"p":1.09166},{"s":"d","i":223,"p":1.09160},{"s":"d","i":227,"p":1.09164},{"s":"d","i":236,"p":1.09185},{"s":"d","i":244,"p":1.09217},{"s":"d","i":246,"p":1.09228}
],
"trend":[{"s":"upper","i":6,"p":1.09540},{"s":"upper","i":273.5,"p":1.09232},{"s":"lower","i":6,"p":1.09075},{"s":"lower","i":164.25,"p":1.08893}],
"mid":[{"i":6.75,"p":1.09306},{"i":273.5,"p":1.09001}],
"levels":[{"p":1.0998},{"p":1.0971},{"p":1.0944},{"p":1.0911}],
"hlines":[{"p":1.0930,"k":"mark"},{"p":1.0927,"k":"bid"}],
"tags":[{"p":1.0998,"t":"1.0998","k":"level"},{"p":1.0971,"t":"1.0971","k":"level"},{"p":1.0944,"t":"1.0944","k":"level"},{"p":1.0911,"t":"1.0911","k":"level"},{"p":1.0930,"t":"1.0930","k":"mark"},{"p":1.0927,"t":"1.0927","k":"bid"}],
"zone":[{"i0":42.75,"i1":55.75,"p0":1.0944,"p1":1.09537}],
"days":[{"i":148}],
"alert":[{"i":245.5,"p":1.09268}]
},
"vconcat":[
{
"width":1097,"height":576,
"layer":[
{"data":{"name":"zone"},"mark":{"type":"rect","fill":"#5f9ea0","clip":true},
 "encoding":{"x":{"field":"i0","type":"quantitative","title":null,"scale":{"domain":[-0.875,273.375],"nice":false,"zero":false,"padding":0},
   "axis":{"values":[6,14,22,30,38,46,54,62,70,78,86,94,102,110,118,126,134,142,150,158,166,174,182,190,198,206,214,222,230,238,246,254,262,270],"labels":false,"ticks":false,"domain":false,"grid":true,"zindex":0}},
  "x2":{"field":"i1"},
  "y":{"field":"p0","type":"quantitative","title":null,"scale":{"domain":[1.08894,1.10114],"nice":false,"zero":false,"padding":0},
   "axis":{"orient":"right","values":[1.0895,1.0905,1.0915,1.0925,1.0935,1.0945,1.0955,1.0965,1.0975,1.0985,1.0995,1.1005],"format":".4f","grid":true,"tickSize":3,"labelPadding":3,"domain":false,"zindex":0}},
  "y2":{"field":"p1"}}},
{"data":{"name":"candles"},"mark":{"type":"rule","color":"#000000","strokeWidth":1,"clip":true},
 "encoding":{"x":{"field":"i","type":"quantitative","title":null,"scale":{"domain":[-0.875,273.375],"nice":false,"zero":false,"padding":0}},
  "y":{"field":"l","type":"quantitative","title":null,"scale":{"domain":[1.08894,1.10114],"nice":false,"zero":false,"padding":0}},
  "y2":{"field":"h"}}},
{"data":{"name":"candles"},"mark":{"type":"bar","size":2,"stroke":"#000000","strokeWidth":1,"clip":true},
 "encoding":{"x":{"field":"i","type":"quantitative","title":null,"scale":{"domain":[-0.875,273.375],"nice":false,"zero":false,"padding":0}},
  "y":{"field":"o","type":"quantitative","title":null,"scale":{"domain":[1.08894,1.10114],"nice":false,"zero":false,"padding":0}},
  "y2":{"field":"c"},
  "fill":{"condition":{"test":"datum.c >= datum.o","value":"#ffffff"},"value":"#000000"}}},
{"data":{"name":"bands"},"mark":{"type":"line","color":"#ba55d3","strokeWidth":1,"strokeDash":[3,2],"interpolate":"monotone","strokeJoin":"round","clip":true},
 "encoding":{"x":{"field":"i","type":"quantitative","title":null,"scale":{"domain":[-0.875,273.375],"nice":false,"zero":false,"padding":0}},
  "y":{"field":"p","type":"quantitative","title":null,"scale":{"domain":[1.08894,1.10114],"nice":false,"zero":false,"padding":0}},
  "detail":{"field":"s"}}},
{"data":{"name":"mid"},"mark":{"type":"line","color":"#22e822","strokeWidth":1,"strokeDash":[4,3],"strokeJoin":"round","clip":true},
 "encoding":{"x":{"field":"i","type":"quantitative","title":null,"scale":{"domain":[-0.875,273.375],"nice":false,"zero":false,"padding":0}},
  "y":{"field":"p","type":"quantitative","title":null,"scale":{"domain":[1.08894,1.10114],"nice":false,"zero":false,"padding":0}}}},
{"data":{"name":"maSlow"},"mark":{"type":"line","color":"#ffff00","strokeWidth":3,"interpolate":"monotone","strokeJoin":"round","clip":true},
 "encoding":{"x":{"field":"i","type":"quantitative","title":null,"scale":{"domain":[-0.875,273.375],"nice":false,"zero":false,"padding":0}},
  "y":{"field":"p","type":"quantitative","title":null,"scale":{"domain":[1.08894,1.10114],"nice":false,"zero":false,"padding":0}}}},
{"data":{"name":"maFast"},"mark":{"type":"line","color":"#008000","strokeWidth":3,"interpolate":"monotone","strokeJoin":"round","clip":true},
 "encoding":{"x":{"field":"i","type":"quantitative","title":null,"scale":{"domain":[-0.875,273.375],"nice":false,"zero":false,"padding":0}},
  "y":{"field":"p","type":"quantitative","title":null,"scale":{"domain":[1.08894,1.10114],"nice":false,"zero":false,"padding":0}}}},
{"data":{"name":"trend"},"mark":{"type":"line","color":"#22e822","strokeWidth":2,"strokeJoin":"round","clip":true},
 "encoding":{"x":{"field":"i","type":"quantitative","title":null,"scale":{"domain":[-0.875,273.375],"nice":false,"zero":false,"padding":0}},
  "y":{"field":"p","type":"quantitative","title":null,"scale":{"domain":[1.08894,1.10114],"nice":false,"zero":false,"padding":0}},
  "detail":{"field":"s"}}},
{"data":{"name":"hlines"},"mark":{"type":"rule","strokeWidth":1,"clip":true},
 "encoding":{"y":{"field":"p","type":"quantitative","title":null,"scale":{"domain":[1.08894,1.10114],"nice":false,"zero":false,"padding":0}},
  "stroke":{"field":"k","type":"nominal","scale":{"domain":["mark","bid"],"range":["#ff4500","#a8a8a8"]},"legend":null}}},
{"data":{"name":"levels"},"mark":{"type":"rule","color":"#ff0000","strokeWidth":2,"clip":true},
 "encoding":{"y":{"field":"p","type":"quantitative","title":null,"scale":{"domain":[1.08894,1.10114],"nice":false,"zero":false,"padding":0}}}},
{"data":{"name":"days"},"mark":{"type":"rule","color":"#000000","strokeWidth":1,"strokeDash":[2,2],"clip":true},
 "encoding":{"x":{"field":"i","type":"quantitative","title":null,"scale":{"domain":[-0.875,273.375],"nice":false,"zero":false,"padding":0}}}},
{"data":{"name":"alert"},"mark":{"type":"point","shape":"circle","size":50,"filled":false,"color":"#ff5050","strokeWidth":1},
 "encoding":{"x":{"field":"i","type":"quantitative","title":null,"scale":{"domain":[-0.875,273.375],"nice":false,"zero":false,"padding":0}},
  "y":{"field":"p","type":"quantitative","title":null,"scale":{"domain":[1.08894,1.10114],"nice":false,"zero":false,"padding":0}}}},
{"data":{"name":"tags"},"mark":{"type":"bar","orient":"horizontal","size":12},
 "encoding":{"x":{"datum":273.9,"type":"quantitative","scale":{"domain":[-0.875,273.375],"nice":false,"zero":false,"padding":0}},"x2":{"datum":283.1},
  "y":{"field":"p","type":"quantitative","title":null,"scale":{"domain":[1.08894,1.10114],"nice":false,"zero":false,"padding":0}},
  "fill":{"field":"k","type":"nominal","scale":{"domain":["level","mark","bid"],"range":["#ff0000","#ff4500","#000000"]},"legend":null}}},
{"data":{"name":"tags"},"mark":{"type":"text","color":"#ffffff","font":"Liberation Sans","fontSize":10,"align":"center","baseline":"middle"},
 "encoding":{"x":{"datum":278.5,"type":"quantitative","scale":{"domain":[-0.875,273.375],"nice":false,"zero":false,"padding":0}},
  "y":{"field":"p","type":"quantitative","title":null,"scale":{"domain":[1.08894,1.10114],"nice":false,"zero":false,"padding":0}},
  "text":{"field":"t"}}},
{"data":{"values":[{}]},"mark":{"type":"rect","fill":"#ffffff","opacity":0},
 "encoding":{"x":{"datum":283.1,"type":"quantitative"},"x2":{"datum":283.875},"y":{"datum":1.1005,"type":"quantitative"},"y2":{"datum":1.1004}}}
]
},
{
"width":1097,"height":139,
"layer":[
{"data":{"name":"vol"},"transform":[{"window":[{"op":"lag","field":"v","as":"pv"}],"sort":[{"field":"i"}]}],
 "mark":{"type":"bar","size":3,"clip":true},
 "encoding":{"x":{"field":"i","type":"quantitative","title":null,"scale":{"domain":[-0.875,273.375],"nice":false,"zero":false,"padding":0},
   "axis":{"values":[6,14,22,30,38,46,54,62,70,78,86,94,102,110,118,126,134,142,150,158,166,174,182,190,198,206,214,222,230,238,246,254,262,270],
    "labelExpr":"indexof([46,62,78,94,110,126,142,158,174,190,206,222,238], datum.value) >= 0 ? ['11 May 15:20','11 May 16:40','11 May 18:00','11 May 19:20','11 May 20:40','11 May 22:00','11 May 23:25','12 May 00:55','12 May 02:20','12 May 03:40','12 May 05:00','12 May 06:20','12 May 07:40'][indexof([46,62,78,94,110,126,142,158,174,190,206,222,238], datum.value)] : ''",
    "labelAlign":"left","labelOverlap":false,"labelFlush":false,"labelPadding":2,"tickSize":3,"grid":true,"domain":false,"zindex":0}},
  "y":{"field":"v","type":"quantitative","title":null,"scale":{"domain":[0,206],"nice":false,"padding":0},
   "axis":{"orient":"right","values":[0,197],"grid":false,"tickSize":3,"labelPadding":3,"domain":false,"zindex":0,
    "labelBaseline":{"condition":{"test":"datum.value == 0","value":"bottom"},"value":"middle"}}},
  "color":{"condition":{"test":"datum.pv == null || datum.v > datum.pv","value":"#008000"},"value":"#ff0000"}}},
{"data":{"name":"days"},"mark":{"type":"rule","color":"#000000","strokeWidth":1,"strokeDash":[2,2],"clip":true},
 "encoding":{"x":{"field":"i","type":"quantitative","title":null,"scale":{"domain":[-0.875,273.375],"nice":false,"zero":false,"padding":0}}}},
{"data":{"values":[{}]},"mark":{"type":"rect","fill":"#6b6b6b"},
 "encoding":{"x":{"datum":-0.875,"type":"quantitative"},"x2":{"datum":44.125},"y":{"datum":41,"type":"quantitative"},"y2":{"datum":-36}}},
{"data":{"values":[{}]},"mark":{"type":"text","text":"⚙","font":"DejaVu Sans","fontSize":40,"color":"#ffffff","align":"center","baseline":"middle"},
 "encoding":{"x":{"datum":5.375,"type":"quantitative"},"y":{"datum":-1,"type":"quantitative"}}},
{"data":{"values":[{}]},"mark":{"type":"text","text":"instaforex","font":"Roboto","fontWeight":300,"fontSize":30,"color":"#ffffff","align":"left","baseline":"alphabetic"},
 "encoding":{"x":{"datum":10.375,"type":"quantitative"},"y":{"datum":-11,"type":"quantitative"}}},
{"data":{"values":[{}]},"mark":{"type":"text","text":"Instant Forex Trading","font":"Roboto","fontSize":11,"color":"#e8e8e8","align":"left","baseline":"alphabetic"},
 "encoding":{"x":{"datum":10.875,"type":"quantitative"},"y":{"datum":-30,"type":"quantitative"}}}
]
}
]
}
